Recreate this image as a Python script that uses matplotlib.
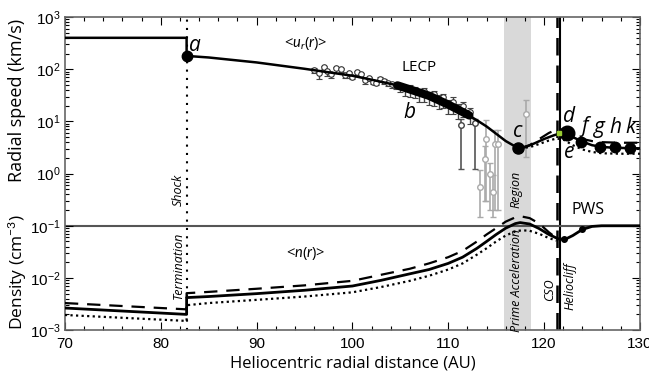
import numpy as np
import matplotlib
matplotlib.use("Agg")
import matplotlib.pyplot as plt
from matplotlib.ticker import MultipleLocator, LogLocator

plt.rcParams['font.family'] = 'Liberation Sans'
plt.rcParams['mathtext.fontset'] = 'custom'
plt.rcParams['mathtext.rm'] = 'Lato'
plt.rcParams['mathtext.it'] = 'Lato:italic'

# radial speed model (km/s)
u_r = [70, 82.7, 82.7, 85, 90, 95, 100, 102, 104.5, 106, 108, 110, 112, 113, 114, 115, 116, 117, 117.5,
       118, 119, 120, 121, 121.7, 122.4, 123, 124, 125, 126, 127, 128, 130]
u_solid = [400, 400, 180, 168, 135, 102, 75, 63, 50, 41, 31, 21, 13.5, 10.5, 8, 5.8, 4.2, 3.3, 3.1,
           3.2, 3.8, 4.6, 5.4, 5.9, 6.0, 5.0, 4.1, 3.5, 3.25, 3.15, 3.1, 3.05]
u_alt_r = [117.5, 118.5, 119.5, 120.5, 121.3, 122, 123, 124, 125, 126, 128, 130]
u_dashed = [3.1, 3.5, 4.6, 6.0, 7.0, 7.0, 5.5, 4.6, 4.2, 4.0, 3.9, 3.9]
u_dotted = [3.1, 3.2, 3.7, 4.3, 4.7, 4.5, 3.5, 2.9, 2.6, 2.45, 2.4, 2.4]

# thick segment b
b_r = [104.7, 106, 108, 110, 112.2]
b_u = [49, 41, 31, 21, 13]

# labelled points
pt_names = ['a', 'c', 'd', 'f', 'g', 'h', 'k']
pt_r = [82.7, 117.3, 122.4, 123.9, 125.8, 127.4, 129.0]
pt_u = [178, 3.1, 6.0, 4.1, 3.2, 3.2, 3.1]

# density model (cm^-3)
n_r = [70, 82.7, 82.7, 85, 90, 95, 100, 103, 106, 108, 110, 111.5, 113, 114, 115, 116, 117, 117.5,
       118.5, 119.5, 120.5, 121.5, 122.2, 123, 124, 125, 126, 130]
n_solid = [2.65e-3, 2.0e-3, 4.2e-3, 4.4e-3, 5.0e-3, 5.8e-3, 7.0e-3, 9.0e-3, 0.012, 0.0145, 0.019, 0.025,
           0.037, 0.05, 0.068, 0.09, 0.11, 0.115, 0.108, 0.088, 0.068, 0.056, 0.055, 0.065, 0.085,
           0.097, 0.1, 0.1]
n_alt_r = [70, 82.7, 82.7, 85, 90, 95, 100, 103, 106, 108, 110, 111.5, 113, 114, 115, 116, 117, 117.7,
           118.5, 119.5, 120.5, 121.3]
n_dashed = [3.3e-3, 2.5e-3, 5.1e-3, 5.4e-3, 6.2e-3, 7.2e-3, 8.8e-3, 0.0115, 0.015, 0.019, 0.025, 0.033,
            0.05, 0.068, 0.09, 0.12, 0.145, 0.15, 0.14, 0.11, 0.075, 0.058]
n_dotted = [1.95e-3, 1.5e-3, 3.0e-3, 3.3e-3, 3.8e-3, 4.4e-3, 5.3e-3, 6.7e-3, 8.8e-3, 0.011, 0.0145, 0.019,
            0.028, 0.037, 0.05, 0.065, 0.078, 0.082, 0.08, 0.07, 0.058, 0.052]
n_pts_r = [122.1, 124.0]
n_pts = [0.055, 0.086]

# LECP data
lecp_r = [96.0, 96.5, 97.0, 97.4, 97.8, 98.3, 98.8, 99.2, 99.6, 100.0, 100.5, 100.9, 101.3, 101.7,
          102.1, 102.5, 102.9, 103.3, 103.7, 104.1, 104.5, 105.0, 105.5, 106.0, 106.5, 107.0, 107.5,
          108.0, 108.5, 109.0, 109.5, 110.0, 110.5, 111.0, 111.5, 112.3]
lecp_u = [98, 85, 110, 92, 80, 105, 100, 78, 84, 72, 88, 80, 62, 68, 58, 55, 66, 60, 55, 52, 50, 47,
          43, 44, 40, 36, 38, 31, 33, 27, 29, 22, 24, 18, 20, 15]
lecp_lo = [12, 20, 10, 18, 12, 22, 12, 10, 16, 8, 12, 10, 10, 8, 7, 6, 9, 8, 8, 9, 8, 10,
           12, 14, 12, 12, 14, 10, 13, 10, 11, 8, 10, 7, 8, 6]
lecp_hi = [6, 5, 6, 5, 5, 6, 6, 4, 5, 4, 5, 4, 4, 4, 3, 3, 4, 4, 3, 3, 3, 4,
           4, 5, 5, 5, 6, 5, 6, 5, 5, 4, 5, 4, 4, 3]
dark_r = [111.3, 112.8]
dark_u = [8.5, 9.3]
dark_lo = [7.3, 8.1]
dark_hi = [2.5, 2.0]
grey_r = [113.3, 113.8, 113.9, 114.4, 114.7, 114.9, 115.2, 118.1]
grey_u = [0.55, 1.9, 4.6, 1.0, 0.45, 3.7, 3.7, 13.8]
grey_lo = [0.4, 1.6, 4.3, 0.8, 0.3, 3.5, 3.5, 11.7]
grey_hi = [0.6, 1.5, 6.0, 0.6, 0.5, 3.0, 3.0, 12.0]

fig = plt.figure(figsize=(6.49, 3.79), dpi=100)
ax = fig.add_axes([0.100, 0.129, 0.886, 0.826])
ax.set_yscale('log')
ax.set_xlim(70, 130)
ax.set_ylim(1e-3, 1e3)

# shaded region and boundaries
ax.axvspan(115.8, 118.6, color='#d9d9d9', lw=0, zorder=0)
ax.axvline(82.7, color='k', lw=1.5, ls=(0, (1, 3)), zorder=1)
ax.axvline(121.3, color='k', lw=1.8, ls=(0, (7, 4)), zorder=1)
ax.axvline(121.7, color='k', lw=1.5, zorder=1)
ax.axhline(0.1, color='#555555', lw=1.5, zorder=1)

# LECP data
ax.errorbar(grey_r, grey_u, yerr=[grey_lo, grey_hi], fmt='o', ms=4, mfc='white', mec='#aaaaaa',
            ecolor='#aaaaaa', elinewidth=1.2, capsize=2, zorder=2)
ax.errorbar(dark_r, dark_u, yerr=[dark_lo, dark_hi], fmt='o', ms=4, mfc='white', mec='#444444',
            ecolor='#555555', elinewidth=1.2, capsize=2, zorder=2)
ax.errorbar(lecp_r, lecp_u, yerr=[lecp_lo, lecp_hi], fmt='o', ms=4, mfc='white', mec='#333333',
            mew=0.8, ecolor='#444444', elinewidth=1, capsize=2, zorder=2)

# speed curves
ax.plot(u_r, u_solid, color='k', lw=1.8, zorder=4)
ax.plot(u_alt_r, u_dashed, color='k', lw=1.6, ls=(0, (6, 4)), zorder=3)
ax.plot(u_alt_r, u_dotted, color='k', lw=1.6, ls=(0, (1, 1.5)), zorder=3)
ax.plot(b_r, b_u, color='k', lw=6, solid_capstyle='round', zorder=4)
sizes = [7.5, 8, 10.5, 7.5, 7.5, 7.5, 7.5]
for r, u, s in zip(pt_r, pt_u, sizes):
    ax.plot(r, u, 'o', color='k', ms=s, zorder=5)
ax.plot(121.55, 5.9, 's', color='#9acd32', ms=2.5, zorder=6)

# density curves
ax.plot(n_r, n_solid, color='k', lw=2.0, zorder=4)
ax.plot(n_alt_r, n_dashed, color='k', lw=1.6, ls=(0, (6, 4)), zorder=3)
ax.plot(n_alt_r, n_dotted, color='k', lw=1.6, ls=(0, (1, 1.5)), zorder=3)
ax.plot(n_pts_r, n_pts, 'o', color='k', ms=4, zorder=5)

# letters
lab_fam = ['Open Sans', 'DejaVu Sans']
lpos = {'a': (83.6, 280), 'b': (105.9, 15), 'c': (117.3, 6.5), 'd': (122.6, 12.5), 'e': (122.6, 2.5),
        'f': (124.2, 8.0), 'g': (125.8, 7.6), 'h': (127.4, 7.6), 'k': (129.0, 7.6)}
for name, (x, y) in lpos.items():
    ax.text(x, y, name, fontsize=15, style='italic', family=lab_fam, ha='center', va='center', zorder=7)

ax.text(95.1, 316, r'<$u_r$($r$)>', fontsize=10.5, ha='center', va='center', family=lab_fam)
ax.text(95.1, 0.03, r'<$n$($r$)>', fontsize=10.5, ha='center', va='center', family=lab_fam)
ax.text(107.0, 110, 'LECP', fontsize=11, ha='center', va='center', family=lab_fam)
ax.text(122.9, 0.2, 'PWS', fontsize=11.5, ha='left', va='center', family=lab_fam)

rot = dict(rotation=90, style='italic', fontsize=9, ha='center', va='center', family=lab_fam)
ax.text(81.8, 0.49, 'Shock', **rot)
ax.text(81.8, 0.0178, 'Termination', **rot)
ax.text(117.1, 0.49, 'Region', **rot)
ax.text(117.1, 0.0091, 'Prime Acceleration', **rot)
ax.text(120.6, 0.0059, 'CSO', **rot)
ax.text(122.7, 0.0068, 'Heliocliff', **rot)

# axes styling
ax.xaxis.set_major_locator(MultipleLocator(10))
ax.xaxis.set_minor_locator(MultipleLocator(2))
ax.yaxis.set_major_locator(LogLocator(base=10, numticks=10))
ax.yaxis.set_minor_locator(LogLocator(base=10, subs=np.arange(2, 10), numticks=20))
ax.tick_params(which='both', direction='in', top=True, right=True, labelsize=11, width=0.8, pad=3)
ax.tick_params(axis='x', pad=5)
ax.tick_params(which='major', length=6)
ax.tick_params(which='minor', length=3)
for sp in ax.spines.values():
    sp.set_color('#666666')
    sp.set_linewidth(1.2)

ax.set_xlabel('Heliocentric radial distance (AU)', fontsize=12, family=lab_fam, labelpad=3)
fig.text(0.026, 0.735, 'Radial speed (km/s)', rotation=90, fontsize=13, family=lab_fam,
         ha='center', va='center')
fig.text(0.026, 0.283, r'Density (cm$^{-3}$)', rotation=90, fontsize=12.5, family=lab_fam,
         ha='center', va='center')

fig.savefig('out.png', dpi=100)
